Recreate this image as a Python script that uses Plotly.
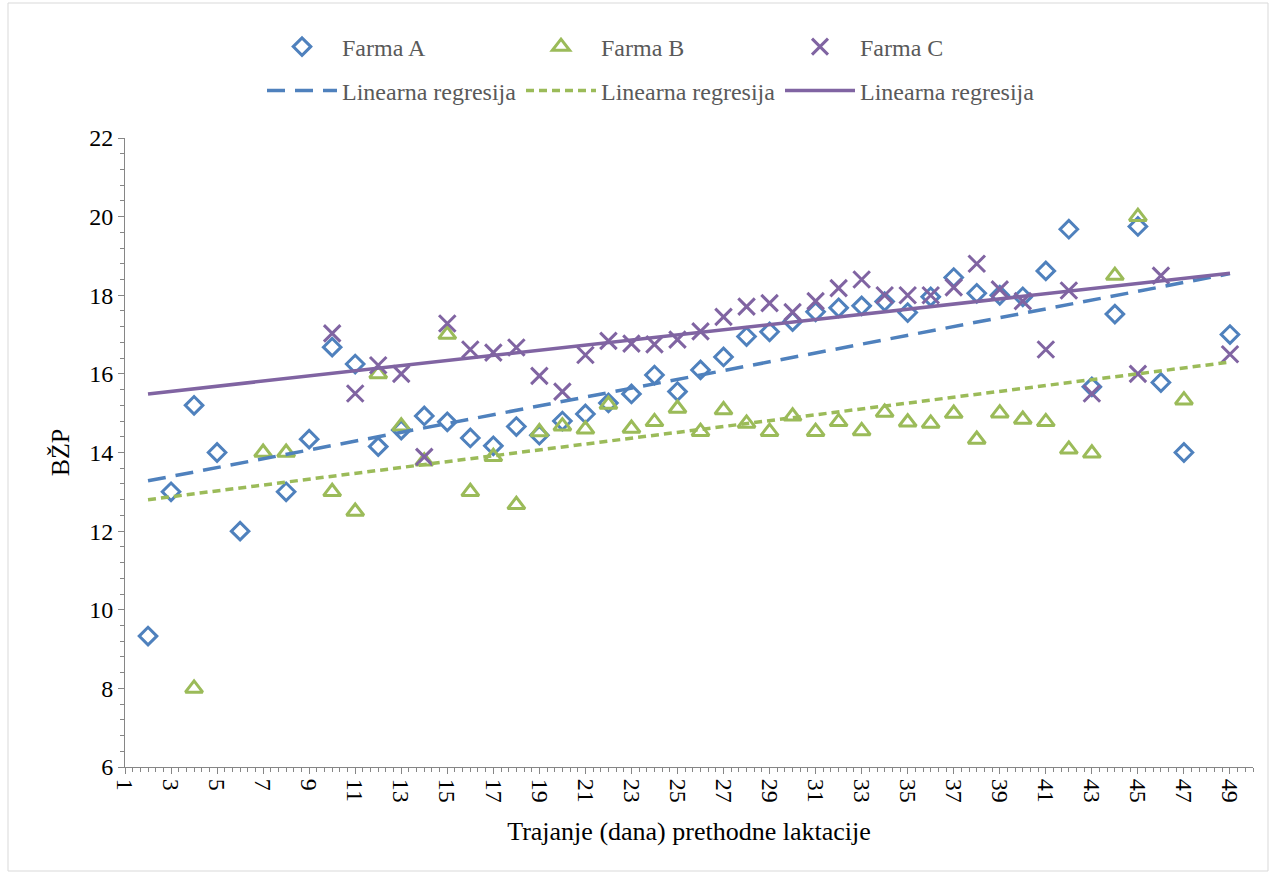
import plotly.graph_objects as go

# Trajanje prethodne laktacije (dani) i BŽP po farmama
days = list(range(1, 50))

farm_a = [None, 9.33, 13.0, 15.2, 14.0, 12.0, None, 13.0, 14.34, 16.68,
          16.25, 14.15, 14.57, 14.93, 14.78, 14.37, 14.17, 14.66, 14.44, 14.80,
          14.98, 15.26, 15.49, 15.97, 15.55, 16.10, 16.43, 16.95, 17.07, 17.33,
          17.58, 17.68, 17.73, 17.84, 17.56, 17.96, 18.45, 18.05, 18.0, 17.96,
          18.62, 19.68, 15.67, 17.52, 19.75, 15.78, 14.0, None, 17.0]

farm_b = [None, None, None, 8.0, None, None, 14.0, 14.0, None, 13.0,
          12.5, 16.0, 14.67, 13.78, 17.0, 13.0, 13.89, 12.67, 14.52, 14.67,
          14.59, 15.22, 14.61, 14.78, 15.12, 14.53, 15.08, 14.74, 14.53, 14.92,
          14.53, 14.78, 14.55, 15.02, 14.77, 14.74, 14.99, 14.33, 15.0, 14.84,
          14.78, 14.08, 13.98, 18.5, 20.0, None, 15.33, None, None]

farm_c = [None, None, None, None, None, None, None, None, None, 17.03,
          15.5, 16.22, 16.0, 13.89, 17.28, 16.62, 16.54, 16.67, 15.95, 15.55,
          16.48, 16.84, 16.77, 16.75, 16.87, 17.08, 17.45, 17.71, 17.8, 17.57,
          17.85, 18.18, 18.4, 18.0, 18.0, 18.0, 18.2, 18.8, 18.15, 17.85,
          16.62, 18.12, 15.5, None, 16.0, 18.5, None, None, 16.5]

# Linearna regresija: vrijednosti na krajevima raspona
trend_x = [2, 49]
trend_a = [13.28, 18.55]
trend_b = [12.80, 16.30]
trend_c = [15.49, 18.56]

series_names = ["Farma A", "Farma B", "Farma C"]
trend_name = "Linearna regresija"

BLUE = "#4F81BD"
GREEN = "#9BBB59"
PURPLE = "#8064A2"
FONT = "Liberation Serif"

fig = go.Figure()

fig.add_trace(go.Scatter(
    x=days, y=farm_a, mode="markers", name=series_names[0], legend="legend",
    marker=dict(symbol="diamond-open", size=13.5, color=BLUE,
                line=dict(width=3, color=BLUE))))
fig.add_trace(go.Scatter(
    x=days, y=farm_b, mode="markers", name=series_names[1], legend="legend",
    marker=dict(symbol="triangle-up-open", size=15, color=GREEN,
                line=dict(width=3, color=GREEN))))
fig.add_trace(go.Scatter(
    x=days, y=farm_c, mode="markers", name=series_names[2], legend="legend",
    marker=dict(symbol="x-thin-open", size=16.5, color=PURPLE,
                line=dict(width=3, color=PURPLE))))

fig.add_trace(go.Scatter(
    x=trend_x, y=trend_a, mode="lines", name=trend_name, legend="legend2",
    line=dict(color=BLUE, width=3.5, dash="18px,10px")))
fig.add_trace(go.Scatter(
    x=trend_x, y=trend_b, mode="lines", name=trend_name, legend="legend2",
    line=dict(color=GREEN, width=3.5, dash="8px,5px")))
fig.add_trace(go.Scatter(
    x=trend_x, y=trend_c, mode="lines", name=trend_name, legend="legend2",
    line=dict(color=PURPLE, width=3.5)))

L, R, T, B = 125, 18, 138, 107
W, H = 1271, 874
plot_w = W - L - R
plot_h = H - T - B

legend_font = dict(family=FONT, size=24, color="#595959")
legend_x = (262 - L) / plot_w

fig.update_layout(
    width=W, height=H,
    margin=dict(l=L, r=R, t=T, b=B),
    paper_bgcolor="white", plot_bgcolor="white",
    font=dict(family=FONT, size=24, color="black"),
    showlegend=True,
    legend=dict(orientation="h", x=legend_x, xanchor="left",
                y=1 + (T - 47) / plot_h, yanchor="middle",
                entrywidth=174, entrywidthmode="pixels", itemwidth=70,
                font=legend_font, bgcolor="rgba(0,0,0,0)"),
    legend2=dict(orientation="h", x=legend_x, xanchor="left",
                 y=1 + (T - 91) / plot_h, yanchor="middle",
                 entrywidth=174, entrywidthmode="pixels", itemwidth=70,
                 font=legend_font, bgcolor="rgba(0,0,0,0)"),
    xaxis=dict(
        range=[1, 50], tick0=1, dtick=2, tickangle=90,
        showgrid=False, zeroline=False,
        showline=True, linecolor="#868686", linewidth=1,
        ticks="outside", ticklen=6, tickcolor="#868686",
        minor=dict(dtick=1 / 3, tick0=1, ticks="outside", ticklen=4,
                   tickcolor="#868686", showgrid=False),
        tickfont=dict(family=FONT, size=24, color="black"),
        title=dict(text="Trajanje (dana) prethodne laktacije",
                   font=dict(family=FONT, size=26, color="black"), standoff=20),
    ),
    yaxis=dict(
        range=[6, 22], dtick=2,
        showgrid=False, zeroline=False,
        showline=True, linecolor="#868686", linewidth=1,
        ticks="outside", ticklen=6, tickcolor="#868686",
        minor=dict(dtick=0.4, ticks="outside", ticklen=4,
                   tickcolor="#868686", showgrid=False),
        tickfont=dict(family=FONT, size=24, color="black"),
        title=dict(text="BŽP", font=dict(family=FONT, size=26, color="black"),
                   standoff=12),
    ),
)

# okvir oko cijelog grafikona
fig.add_shape(type="rect", xref="paper", yref="paper",
              x0=(8 - L) / plot_w, x1=(1268 - L) / plot_w,
              y0=-(H - 3 - T - plot_h) / plot_h, y1=1 + (T - 3) / plot_h,
              line=dict(color="#D9D9D9", width=1), layer="below")

fig.write_html("out.html")
